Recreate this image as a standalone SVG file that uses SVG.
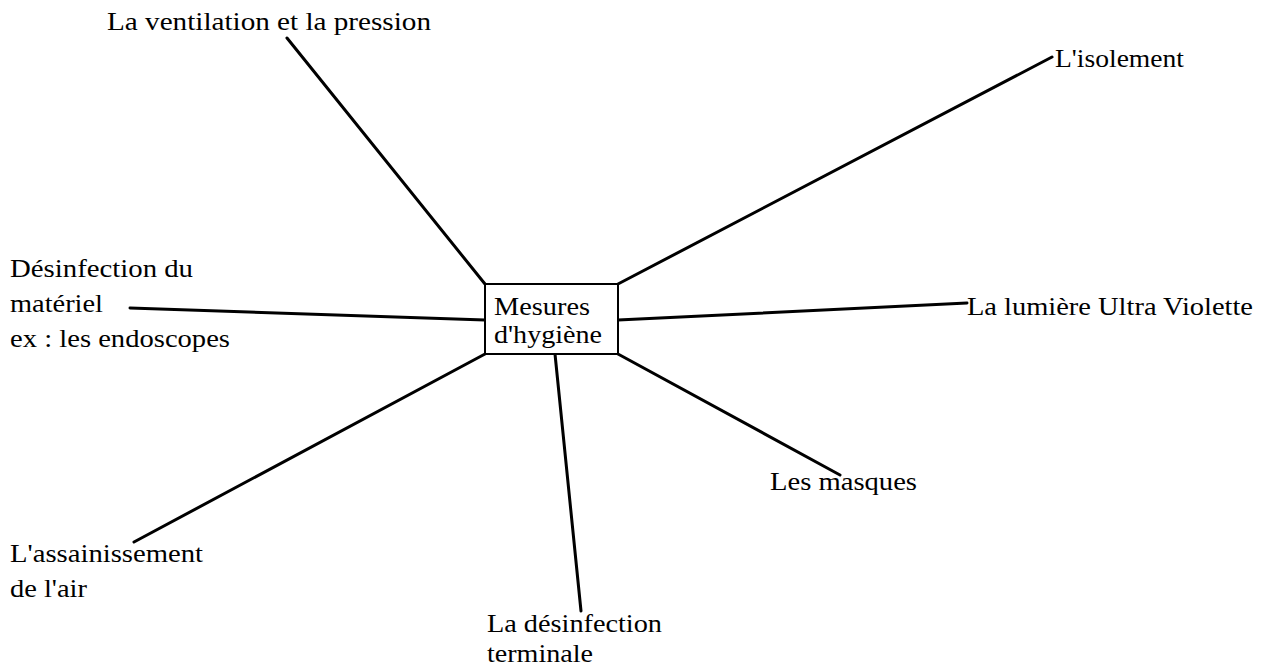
<svg xmlns="http://www.w3.org/2000/svg" width="1265" height="671" viewBox="0 0 1265 671">
<style>
text{font-family:"Liberation Serif","Times New Roman",serif;font-size:25px;fill:#000}
.c line{stroke:#000;stroke-width:3;stroke-linecap:round}
.box{fill:#fff;stroke:#000;stroke-width:2}
</style>
<rect width="1265" height="671" fill="#fff"/>
<g class="c" id="connectors">
<line x1="287" y1="38" x2="485" y2="284"/>
<line x1="618" y1="284" x2="1052" y2="57"/>
<line x1="618" y1="320" x2="967" y2="303"/>
<line x1="618" y1="354" x2="840" y2="475"/>
<line x1="555" y1="354" x2="581" y2="611"/>
<line x1="485" y1="354" x2="134" y2="542"/>
<line x1="130" y1="308" x2="485" y2="320"/>
</g>
<g id="center"><rect class="box" x="485" y="284" width="133" height="70"/><text x="494" y="315" textLength="96" lengthAdjust="spacingAndGlyphs">Mesures</text><text x="494" y="343" textLength="108" lengthAdjust="spacingAndGlyphs">d'hygiène</text></g>
<g id="n-ventilation"><text x="107" y="30" textLength="324" lengthAdjust="spacingAndGlyphs">La ventilation et la pression</text></g>
<g id="n-isolement"><text x="1055" y="67" textLength="129" lengthAdjust="spacingAndGlyphs">L'isolement</text></g>
<g id="n-uv"><text x="967" y="315" textLength="286" lengthAdjust="spacingAndGlyphs">La lumière Ultra Violette</text></g>
<g id="n-masques"><text x="770" y="490" textLength="147" lengthAdjust="spacingAndGlyphs">Les masques</text></g>
<g id="n-terminale"><text x="487" y="632" textLength="175" lengthAdjust="spacingAndGlyphs">La désinfection</text><text x="487" y="662" textLength="106" lengthAdjust="spacingAndGlyphs">terminale</text></g>
<g id="n-air"><text x="10" y="562" textLength="193" lengthAdjust="spacingAndGlyphs">L'assainissement</text><text x="10" y="597" textLength="77" lengthAdjust="spacingAndGlyphs">de l'air</text></g>
<g id="n-materiel"><text x="10" y="277" textLength="183" lengthAdjust="spacingAndGlyphs">Désinfection du</text><text x="10" y="312" textLength="93" lengthAdjust="spacingAndGlyphs">matériel</text><text x="10" y="347" textLength="220" lengthAdjust="spacingAndGlyphs">ex : les endoscopes</text></g>
</svg>
